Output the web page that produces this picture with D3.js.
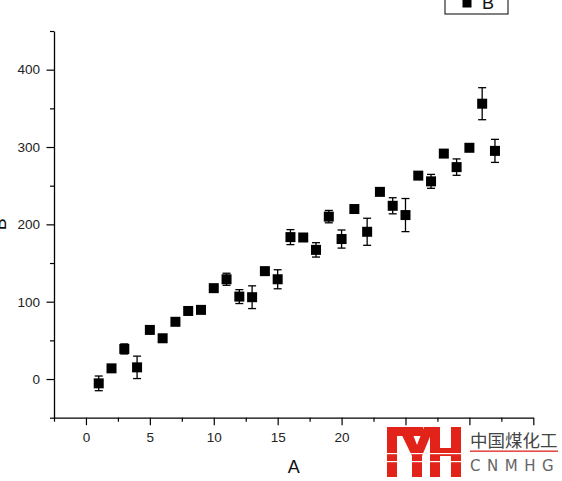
<!DOCTYPE html>
<html>
<head>
<meta charset="utf-8">
<script src="https://cdn.jsdelivr.net/npm/d3@7"></script>
<style>
  html, body { margin: 0; padding: 0; background: #fff; }
  svg { display: block; }
</style>
</head>
<body>
<svg id="chart" width="562" height="481"></svg>
<script>
// ---- data ----
const xValues = [1,2,3,4,5,6,7,8,9,10,11,12,13,14,15,16,17,18,19,20,21,22,23,24,25,26,27,28,29,30,31,32];
const yValues = [-5.6,13.8,38.9,15.1,63.5,52.7,74,88,89.4,117.5,129,106.6,105.8,139.5,129,183.5,183,167,210,181,219.8,190.4,242,224,212,263,255.6,291.5,274,299,356,295];
const yErrors = [9.5,0,6.5,14.5,0,0,0,0,0,4,7.8,9,14.7,0,12.3,9.7,0,9.3,8,11.7,0,17.5,0,10.4,21.4,0,9,0,10.6,0,20.7,14.9];
const xMajorTicks = [0,5,10,15,20,25,30,35];
const xTickLabels = ["0","5","10","15","20","","",""]; // 25, 30, 35 are hidden by the watermark
const xMinorTicks = [-2.5,2.5,7.5,12.5,17.5,22.5,27.5,32.5];
const yMajorTicks = [0,100,200,300,400];
const yMinorTicks = [-50,50,150,250,350,450];
const xTitle = "A";
const yTitle = "B";
const legendLabel = "B";

const svg = d3.select("#chart");
const font = "'Liberation Sans', Arial, sans-serif";

const x = d3.scaleLinear().domain([-2.5, 35]).range([54, 533.3]);
const y = d3.scaleLinear().domain([-50, 450]).range([417.7, 31]);

// axes
const gx = svg.append("g").attr("transform", `translate(0,${y(-50)})`);
gx.call(d3.axisBottom(x).tickValues(xMajorTicks).tickSize(7.5).tickSizeOuter(0)
  .tickFormat((d, i) => xTickLabels[i]));
gx.append("g").call(d3.axisBottom(x).tickValues(xMinorTicks).tickSize(4).tickSizeOuter(0).tickFormat(""))
  .select(".domain").remove();
gx.selectAll("text").attr("dy", "0.71em").attr("y", 14.5);

const gy = svg.append("g").attr("transform", `translate(${x(-2.5)},0)`);
gy.call(d3.axisLeft(y).tickValues(yMajorTicks).tickSize(7.5).tickSizeOuter(0).tickFormat(d3.format("d")));
gy.append("g").call(d3.axisLeft(y).tickValues(yMinorTicks).tickSize(4).tickSizeOuter(0).tickFormat(""))
  .select(".domain").remove();
gy.selectAll("text").attr("x", -14);

svg.selectAll(".domain").attr("stroke", "#000").attr("stroke-width", 1.3);
svg.selectAll(".tick line").attr("stroke", "#000").attr("stroke-width", 1.2);
svg.selectAll(".tick text").attr("font-family", font).attr("font-size", 13.5).attr("fill", "#222");

// axis titles
svg.append("text").attr("x", (x(-2.5) + x(35)) / 2).attr("y", 473)
  .attr("text-anchor", "middle").attr("font-family", font).attr("font-size", 18).attr("fill", "#111").text(xTitle);
svg.append("text").attr("transform", `translate(6,${y(200)}) rotate(-90)`)
  .attr("text-anchor", "middle").attr("font-family", font).attr("font-size", 18).attr("fill", "#111").text(yTitle);

// data
const data = xValues.map((v, i) => ({ x: v, y: yValues[i], e: yErrors[i] }));
const capW = 4;
const eb = svg.append("g").attr("stroke", "#000").attr("stroke-width", 1.3);
data.filter(d => d.e > 0).forEach(d => {
  const cx = x(d.x);
  eb.append("line").attr("x1", cx).attr("x2", cx).attr("y1", y(d.y + d.e)).attr("y2", y(d.y - d.e));
  eb.append("line").attr("x1", cx - capW).attr("x2", cx + capW).attr("y1", y(d.y + d.e)).attr("y2", y(d.y + d.e));
  eb.append("line").attr("x1", cx - capW).attr("x2", cx + capW).attr("y1", y(d.y - d.e)).attr("y2", y(d.y - d.e));
});
const s = 10;
svg.append("g").selectAll("rect").data(data).join("rect")
  .attr("x", d => x(d.x) - s / 2).attr("y", d => y(d.y) - s / 2)
  .attr("width", s).attr("height", s).attr("fill", "#000");

// legend
const lg = svg.append("g");
lg.append("rect").attr("x", 445).attr("y", -10).attr("width", 63).attr("height", 24)
  .attr("fill", "#fff").attr("stroke", "#000").attr("stroke-width", 1);
lg.append("rect").attr("x", 462.5).attr("y", -1.5).attr("width", 9).attr("height", 9).attr("fill", "#000");
lg.append("text").attr("x", 482).attr("y", 9).attr("font-family", font).attr("font-size", 18).attr("fill", "#111").text(legendLabel);

// watermark logo
const logo = svg.append("g");
logo.append("rect").attr("x", 383).attr("y", 426).attr("width", 179).attr("height", 55).attr("fill", "#fff");
const red = "#e2231a";
logo.append("rect").attr("x", 387).attr("y", 427).attr("width", 10).attr("height", 50).attr("fill", red);
logo.append("rect").attr("x", 387).attr("y", 427).attr("width", 36).attr("height", 9).attr("fill", red);
logo.append("path").attr("d", "M398,427 L410,427 L417,445 L424,427 L434,427 L422,456 L422,477 L412,477 L412,456 Z").attr("fill", red);
logo.append("rect").attr("x", 430).attr("y", 427).attr("width", 10).attr("height", 50).attr("fill", red);
logo.append("rect").attr("x", 451).attr("y", 427).attr("width", 10).attr("height", 50).attr("fill", red);
logo.append("rect").attr("x", 430).attr("y", 448).attr("width", 31).attr("height", 8).attr("fill", red);
logo.append("rect").attr("x", 386).attr("y", 453).attr("width", 76).attr("height", 1.2).attr("fill", "#fff");
logo.append("rect").attr("x", 386).attr("y", 461).attr("width", 76).attr("height", 1.2).attr("fill", "#fff");
logo.append("text").attr("x", 470).attr("y", 446.5).attr("font-family", "'Noto Sans CJK SC', sans-serif")
  .attr("font-size", 17.5).attr("fill", "#444").text("中国煤化工");
logo.append("rect").attr("x", 470).attr("y", 450.5).attr("width", 88).attr("height", 1.3).attr("fill", red);
logo.append("text").attr("x", 470).attr("y", 470.5).attr("font-family", "'DejaVu Sans', sans-serif")
  .attr("font-size", 15).attr("letter-spacing", 6.5).attr("fill", "#666").text("CNMHG");
</script>
</body>
</html>
